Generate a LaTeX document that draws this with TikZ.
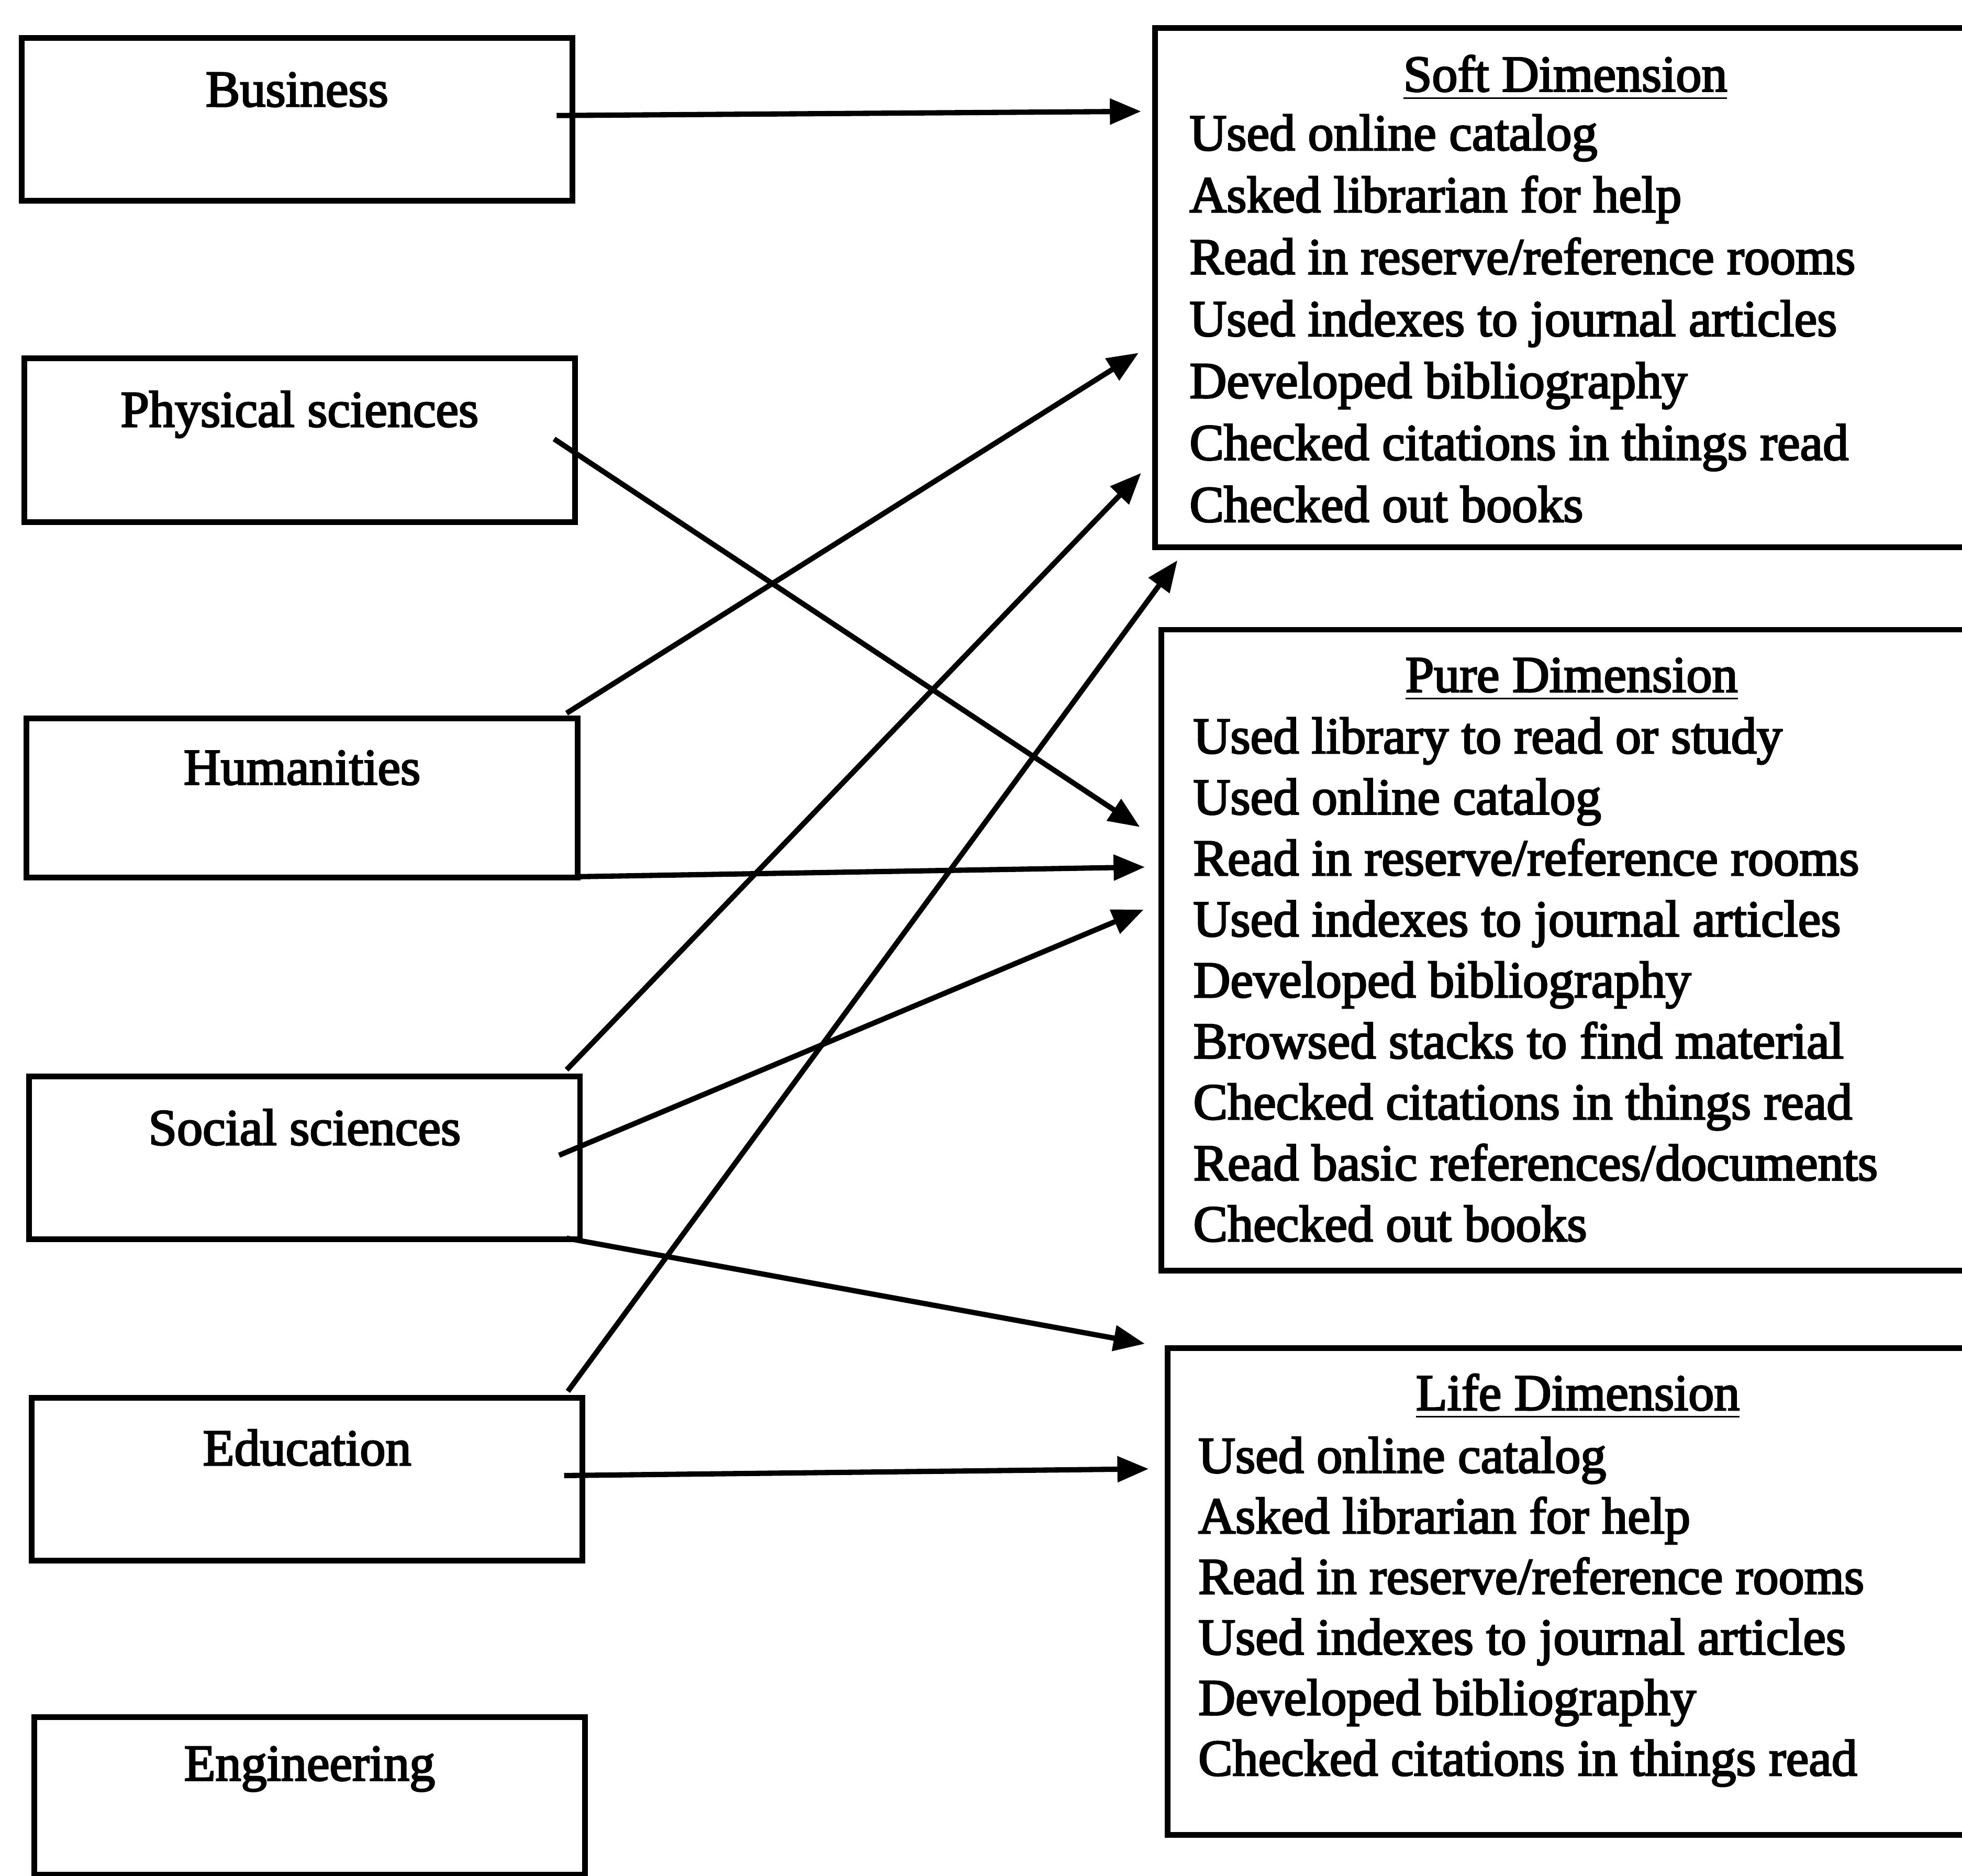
\documentclass[tikz,border=0pt]{standalone}
\usepackage{fontspec}
\setmainfont{Liberation Serif}[FakeBold=3]
\usetikzlibrary{arrows.meta,calc}

\begin{document}
\begin{tikzpicture}[
  x=0.01cm, y=-0.01cm,
  font=\fontsize{11.67pt}{13.95pt}\selectfont,
  field/.style={draw, line width=1.3pt, minimum width=4.4cm, anchor=north west, inner sep=0pt},
  fieldname/.style={anchor=base, inner sep=0pt},
  dimbox/.style={draw, line width=1.3pt, minimum width=6.55cm, anchor=north west, inner sep=0pt},
  dimtitle/.style={anchor=base, inner sep=0pt},
  activity/.style={anchor=base west, inner sep=0pt},
  link/.style={line width=1.2pt, -{Triangle[length=0.25cm,width=0.2cm]}}
]
% page
\fill[white] (0,0) rectangle (1568,1499);
\useasboundingbox (0,0) rectangle (1568,1499);

% disciplines
\node[field, minimum height=1.30cm] (bus) at (15,28) {};
\node[field, minimum height=1.31cm] (phy) at (17,284) {};
\node[field, minimum height=1.27cm] (hum) at (19,572) {};
\node[field, minimum height=1.30cm] (soc) at (21,858) {};
\node[field, minimum height=1.30cm] (edu) at (23,1115) {};
\node[field, minimum height=1.26cm] (eng) at (25,1370) {};

\node[fieldname] (bus-t) at ($(bus.north)+(0,57)$) {Business};
\node[fieldname] (phy-t) at ($(phy.north)+(0,57)$) {Physical sciences};
\node[fieldname] (hum-t) at ($(hum.north)+(0,55)$) {Humanities};
\node[fieldname] (soc-t) at ($(soc.north)+(0,57)$) {Social sciences};
\node[fieldname] (edu-t) at ($(edu.north)+(0,56)$) {Education};
\node[fieldname] (eng-t) at ($(eng.north)+(0,53)$) {Engineering};

% dimensions
\node[dimbox, minimum height=4.15cm] (soft) at (921,20) {};
\node[dimbox, minimum height=5.12cm] (pure) at (926,501) {};
\node[dimbox, minimum height=3.89cm] (life) at (931,1075) {};

\node[dimtitle] (soft-t) at ($(soft.north)+(0,53)$) {\underline{Soft Dimension}};
\node[dimtitle] (pure-t) at ($(pure.north)+(0,52)$) {\underline{Pure Dimension}};
\node[dimtitle] (life-t) at ($(life.north)+(0,52)$) {\underline{Life Dimension}};

\foreach \t [count=\i] in {Used online catalog, Asked librarian for help,
    Read in reserve/reference rooms, Used indexes to journal articles,
    Developed bibliography, Checked citations in things read, Checked out books}
  \node[activity] (soft-\i) at ($(soft.north west)+(29,100+49.5*\i-49.5)$) {\t};

\foreach \t [count=\i] in {Used library to read or study, Used online catalog,
    Read in reserve/reference rooms, Used indexes to journal articles,
    Developed bibliography, Browsed stacks to find material,
    Checked citations in things read, Read basic references/documents, Checked out books}
  \node[activity] (pure-\i) at ($(pure.north west)+(27,101+48.75*\i-48.75)$) {\t};

\foreach \t [count=\i] in {Used online catalog, Asked librarian for help,
    Read in reserve/reference rooms, Used indexes to journal articles,
    Developed bibliography, Checked citations in things read}
  \node[activity] (life-\i) at ($(life.north west)+(26,102+48.4*\i-48.4)$) {\t};

% links
\draw[link] ($(bus.east)+(-15,-3)$) -- ($(soft.north west)+(-9,69)$);
\draw[link] ($(phy.east)+(-19,-1)$) -- ($(pure.north west)+(-15,160)$);
\draw[link] ($(hum.north east)+(-11,-2)$) -- ($(soft.north west)+(-11,262)$);
\draw[link] ($(hum.south east)+(0,-3)$) -- ($(pure.north west)+(-11,192)$);
\draw[link] ($(soc.north east)+(-13,-3)$) -- ($(soft.north west)+(-9,358)$);
\draw[link] ($(soc.east)+(-19,-2)$) -- ($(pure.north west)+(-12,226)$);
\draw[link] ($(soc.south east)+(-13,-3)$) -- ($(life.north west)+(-16,-1)$);
\draw[link] ($(edu.north east)+(-14,-3)$) -- ($(soft.south west)+(20,8)$);
\draw[link] ($(edu.east)+(-17,-3)$) -- ($(life.north west)+(-13,99)$);
\end{tikzpicture}
\end{document}
